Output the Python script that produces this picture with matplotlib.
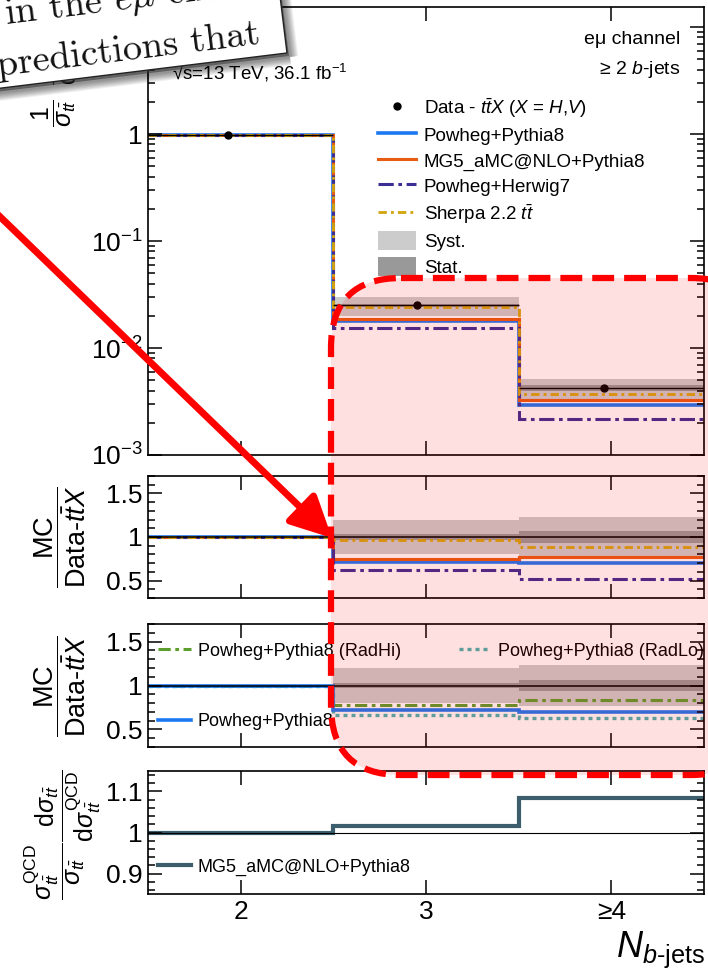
import numpy as np
import matplotlib.pyplot as plt
from matplotlib.patches import Polygon, FancyBboxPatch, Patch
from matplotlib.lines import Line2D
from matplotlib.ticker import FixedLocator, FixedFormatter, MultipleLocator, LogLocator, NullFormatter

plt.rcParams['font.family'] = ['Liberation Sans', 'DejaVu Sans']
plt.rcParams['mathtext.fontset'] = 'custom'
plt.rcParams['mathtext.rm'] = 'Liberation Sans'
plt.rcParams['mathtext.it'] = 'Liberation Sans:italic'
plt.rcParams['mathtext.bf'] = 'Liberation Sans:bold'

# bins: N b-jets
edges = [1.5, 2.5, 3.5, 4.5]
centers = [2, 3, 4]
nb_labels = ['2', '3', '≥4']
data_x = [1.93, 2.95, 3.96]

# normalised cross-section (top panel)
data_xsec = [0.970, 0.0250, 0.0042]
syst_rel = [0.005, 0.20, 0.23]
stat_rel = [0.002, 0.03, 0.065]
pp8_xsec = [0.975, 0.0178, 0.00296]
mg5_xsec = [0.975, 0.0188, 0.00326]
hw7_xsec = [0.977, 0.0155, 0.00218]
sherpa_xsec = [0.971, 0.0242, 0.0037]

# MC / data ratios
pp8_ratio = [1.0, 0.715, 0.705]
mg5_ratio = [1.0, 0.75, 0.775]
hw7_ratio = [1.0, 0.62, 0.52]
sherpa_ratio = [1.0, 0.97, 0.88]

radhi_ratio = [1.0, 0.78, 0.835]
radlo_ratio = [1.0, 0.66, 0.625]
pp8_ratio_b = [1.0, 0.72, 0.70]

qcd_ratio = [1.0, 1.017, 1.085]

c_pp8 = '#1c78f2'
c_mg5 = '#e85c12'
c_hw7 = '#3b2e94'
c_sherpa = '#d4a40c'
c_radhi = '#5c9e2e'
c_radlo = '#4bb1b1'
c_qcd = '#3b5d6c'
c_syst = '#cccccc'
c_stat = '#999999'

ls_hw7 = (0, (5, 1.5, 1.2, 1.5))
ls_sherpa = (0, (3, 1.5, 1, 1.5))
ls_radhi = (0, (4, 1.5, 1.2, 1.5))
ls_radlo = (0, (1.2, 1.2))

W, H = 708, 975
fig = plt.figure(figsize=(W / 100, H / 100), dpi=100)

def box(top, bottom, left=148, right=704):
    return [left / W, 1 - bottom / H, (right - left) / W, (bottom - top) / H]

ax1 = fig.add_axes(box(7, 455))
ax2 = fig.add_axes(box(476, 598))
ax3 = fig.add_axes(box(624, 747))
ax4 = fig.add_axes(box(771, 894))

data = np.array(data_xsec)
syst = np.array(syst_rel)
stat = np.array(stat_rel)

# ---- top panel
ax1.stairs(data * (1 + syst), edges, baseline=data * (1 - syst), fill=True, color=c_syst, lw=0)
ax1.stairs(data * (1 + stat), edges, baseline=data * (1 - stat), fill=True, color=c_stat, lw=0)
ax1.stairs(pp8_xsec, edges, baseline=None, color=c_pp8, lw=2.6)
ax1.stairs(mg5_xsec, edges, baseline=None, color=c_mg5, lw=2.2)
ax1.stairs(hw7_xsec, edges, baseline=None, color=c_hw7, lw=2.2, ls=ls_hw7)
ax1.stairs(sherpa_xsec, edges, baseline=None, color=c_sherpa, lw=2.0, ls=ls_sherpa)
ax1.hlines(data_xsec, edges[:-1], edges[1:], color='black', lw=1, zorder=5)
ax1.plot(data_x, data_xsec, 'o', color='black', ms=5, zorder=6)
ax1.set_yscale('log')
ax1.set_ylim(1e-3, 15.4)
ax1.yaxis.set_major_locator(FixedLocator([1e-3, 1e-2, 1e-1, 1, 10]))
ax1.yaxis.set_major_formatter(FixedFormatter(['$10^{-3}$', '$10^{-2}$', '$10^{-1}$', '1', '10']))
ax1.yaxis.set_minor_locator(LogLocator(base=10, subs=np.arange(2, 10), numticks=20))
ax1.yaxis.set_minor_formatter(NullFormatter())

leg_handles = [
    Line2D([], [], marker='o', ls='none', color='black', ms=5),
    Line2D([], [], color=c_pp8, lw=2.6),
    Line2D([], [], color=c_mg5, lw=2.2),
    Line2D([], [], color=c_hw7, lw=2.2, ls=ls_hw7),
    Line2D([], [], color=c_sherpa, lw=2.0, ls=ls_sherpa),
    Patch(fc=c_syst, ec='none'),
    Patch(fc=c_stat, ec='none'),
]
leg_labels = [r'Data - $t\bar{t}X$ ($X$ = $H$,$V$)', 'Powheg+Pythia8', 'MG5_aMC@NLO+Pythia8',
              'Powheg+Herwig7', r'Sherpa 2.2 $t\bar{t}$', 'Syst.', 'Stat.']
ax1.legend(leg_handles, leg_labels, loc='upper left', bbox_to_anchor=(378 / W, 1 - 96 / H),
           bbox_transform=fig.transFigure, frameon=False, fontsize=13.5, borderpad=0,
           borderaxespad=0, handlelength=2.05, handleheight=1.2, handletextpad=0.4, labelspacing=0.3)
fig.text(680 / W, 1 - 40 / H, 'eμ channel', ha='right', va='center', fontsize=14)
fig.text(680 / W, 1 - 70 / H, '≥ 2 $b$-jets', ha='right', va='center', fontsize=14)
fig.text(172 / W, 1 - 73 / H, '√s=13 TeV, 36.1 fb$^{-1}$', ha='left', va='center', fontsize=13.5)

# ---- ratio panel: generators
for ax in (ax2, ax3):
    ax.stairs(1 + syst, edges, baseline=1 - syst, fill=True, color=c_syst, lw=0)
    ax.stairs(1 + stat, edges, baseline=1 - stat, fill=True, color=c_stat, lw=0)
    ax.axhline(1, color='black', lw=1.1)

ax2.stairs(pp8_ratio, edges, baseline=None, color=c_pp8, lw=2.6)
ax2.stairs(mg5_ratio, edges, baseline=None, color=c_mg5, lw=2.2)
ax2.stairs(hw7_ratio, edges, baseline=None, color=c_hw7, lw=2.2, ls=ls_hw7)
ax2.stairs(sherpa_ratio, edges, baseline=None, color=c_sherpa, lw=2.0, ls=ls_sherpa)

# ---- ratio panel: radiation variations
ax3.stairs(radhi_ratio, edges, baseline=None, color=c_radhi, lw=2.2, ls=ls_radhi)
ax3.stairs(radlo_ratio, edges, baseline=None, color=c_radlo, lw=2.4, ls=ls_radlo)
ax3.stairs(pp8_ratio_b, edges, baseline=None, color=c_pp8, lw=2.6)
lg = ax3.legend([Line2D([], [], color=c_radhi, lw=2.2, ls=ls_radhi), Line2D([], [], color=c_radlo, lw=2.4, ls=ls_radlo)],
                ['Powheg+Pythia8 (RadHi)', 'Powheg+Pythia8 (RadLo)'], ncol=2, loc='center left',
                bbox_to_anchor=(158 / W, 1 - 651 / H), bbox_transform=fig.transFigure, frameon=False,
                fontsize=13, borderpad=0, borderaxespad=0, handlelength=1.8, handletextpad=0.4, columnspacing=3.2)
ax3.add_artist(lg)
ax3.legend([Line2D([], [], color=c_pp8, lw=2.6)], ['Powheg+Pythia8'], loc='center left',
           bbox_to_anchor=(158 / W, 1 - 722 / H), bbox_transform=fig.transFigure, frameon=False,
           fontsize=13, borderpad=0, borderaxespad=0, handlelength=1.8, handletextpad=0.4)

for ax in (ax2, ax3):
    ax.set_ylim(0.3, 1.7)
    ax.yaxis.set_major_locator(FixedLocator([0.5, 1, 1.5]))
    ax.yaxis.set_major_formatter(FixedFormatter(['0.5', '1', '1.5']))
    ax.yaxis.set_minor_locator(MultipleLocator(0.1))

# ---- QCD-only ratio
ax4.axhline(1, color='black', lw=0.8)
ax4.stairs(qcd_ratio, edges, baseline=None, color=c_qcd, lw=3.0)
ax4.legend([Line2D([], [], color=c_qcd, lw=3.0)], ['MG5_aMC@NLO+Pythia8'], loc='center left',
           bbox_to_anchor=(158 / W, 1 - 867 / H), bbox_transform=fig.transFigure, frameon=False,
           fontsize=13, borderpad=0, borderaxespad=0, handlelength=1.8, handletextpad=0.4)
ax4.set_ylim(0.85, 1.15)
ax4.yaxis.set_major_locator(FixedLocator([0.9, 1, 1.1]))
ax4.yaxis.set_major_formatter(FixedFormatter(['0.9', '1', '1.1']))
ax4.yaxis.set_minor_locator(MultipleLocator(0.02))

for ax in (ax1, ax2, ax3, ax4):
    ax.set_xlim(1.5, 4.5)
    ax.set_xticks(centers)
    ax.set_xticklabels(nb_labels if ax is ax4 else [])
    ax.tick_params(which='both', direction='in', top=True, right=True, width=1.1, labelsize=19, pad=4)
    ax.tick_params(which='major', length=10)
    ax.tick_params(which='minor', length=5)
    for s in ax.spines.values():
        s.set_linewidth(1.2)

fig.text(55 / W, 1 - 127 / H,
         r'$\dfrac{1}{\sigma_{t\bar{t}}}\ \ \dfrac{\mathrm{d}\sigma_{t\bar{t}}}{\mathrm{d}N_{b\text{-jets}}}$',
         rotation=90, ha='center', va='bottom', fontsize=18)
for yc in (537, 686):
    fig.text(60 / W, 1 - yc / H, r'$\dfrac{\mathrm{MC}}{\mathrm{Data}\text{-}t\bar{t}X}$',
             rotation=90, ha='center', va='center', fontsize=19.5)
fig.text(63 / W, 1 - 835 / H,
         r'$\dfrac{\sigma^{\mathrm{QCD}}_{t\bar{t}}}{\sigma_{t\bar{t}}}\dfrac{\mathrm{d}\sigma_{t\bar{t}}}{\mathrm{d}\sigma^{\mathrm{QCD}}_{t\bar{t}}}$',
         rotation=90, ha='center', va='center', fontsize=18)
fig.text(705 / W, 1 - 950 / H, r'$N_{b\text{-jets}}$', ha='right', va='center', fontsize=26)

# ---- overlay: paper snippet, arrow and highlighted region
ov = fig.add_axes([0, 0, 1, 1], zorder=10)
ov.set_xlim(0, W)
ov.set_ylim(H, 0)
ov.axis('off')

th = np.deg2rad(7)
br = np.array([287.0, 53.0])
along = np.array([-np.cos(th), np.sin(th)])
up = np.array([-np.sin(th), -np.cos(th)])
corners = np.array([br, br + 380 * along, br + 380 * along + 220 * up, br + 220 * up])

for k in range(10, 0, -1):
    ov.add_patch(Polygon(corners + [3, 4], closed=True, fc='none', ec='black', lw=k * 1.2, alpha=0.05, zorder=1))
ov.add_patch(Polygon(corners + [2, 3], closed=True, fc='#333333', ec='none', alpha=0.6, zorder=1))
paper = Polygon(corners, closed=True, fc='white', ec='#222222', lw=1.0, zorder=2)
ov.add_patch(paper)
for txt, x0, y0 in [(r'in the $e\mu$ channel', 6, 24), ('predictions that', -2, 76)]:
    t = ov.text(x0, y0, txt, rotation=7, rotation_mode='anchor', ha='left', va='baseline',
                fontsize=27.5, family='cmr10', math_fontfamily='cm', color='#111111', zorder=3)
    t.set_clip_path(paper)

ov.add_patch(FancyBboxPatch((331, 278), 430, 497, boxstyle='round,pad=0,rounding_size=70',
                            fc=(1, 0, 0, 0.12), ec='red', lw=4.5, ls=(0, (3.5, 1.6)), zorder=4))
ov.annotate('', xy=(332, 538), xytext=(-10, 207),
            arrowprops=dict(arrowstyle='-|>,head_length=1.0,head_width=0.5', color='red', lw=5,
                            mutation_scale=25, shrinkA=0, shrinkB=0), zorder=5)

fig.savefig('out.png', dpi=100)
